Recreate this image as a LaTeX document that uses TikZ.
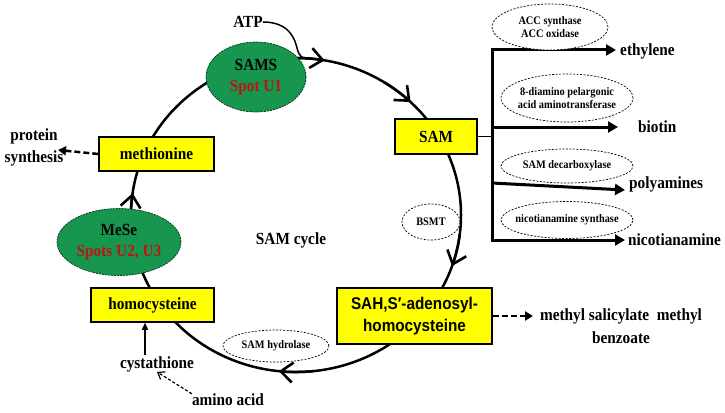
\documentclass[tikz,border=0pt]{standalone}
\usepackage{fontspec}
\setmainfont{Liberation Serif}[FakeStretch=0.9]
\newfontfamily\sahfont{Liberation Sans}[FakeStretch=0.9]
\usetikzlibrary{arrows.meta,shapes.geometric,calc}
\definecolor{boxyellow}{RGB}{255,255,0}
\definecolor{enzgreen}{RGB}{22,150,78}
\definecolor{spotred}{RGB}{190,20,20}
\tikzset{
  big/.style={font=\fontsize{17}{21}\selectfont\bfseries},
  small/.style={font=\fontsize{11.5}{12.5}\selectfont\bfseries},
  ybox/.style={draw=black, line width=1.5pt, fill=boxyellow, inner sep=0pt, big},
  genz/.style={ellipse, draw=black!70!enzgreen, dash pattern=on 2pt off 1pt, line width=0.7pt, fill=enzgreen, inner sep=0pt, big, align=center},
  wenz/.style={ellipse, draw, dash pattern=on 2pt off 1.5pt, line width=0.7pt, inner sep=0pt, fill=white},
  cyc/.style={line width=2.5pt},
  cyctip/.style={line width=2.5pt, -{Straight Barb[length=12pt,width=20pt,line width=2.6pt]}},
  branch/.style={line width=3pt, -{Triangle[length=10pt,width=11pt]}},
  dasharrow/.style={line width=2.5pt, dash pattern=on 6pt off 3pt, -{Triangle[length=8pt,width=9pt]}},
  lbl/.style={big, inner sep=0pt},
}
\begin{document}
\begin{tikzpicture}[x=1pt,y=-1pt]
\useasboundingbox (0,0) rectangle (725,412);
\coordinate (ctr) at (296,215);
% SAM cycle
\draw[cyc] (ctr) ellipse [x radius=165, y radius=157];
\foreach \a/\b in {270/280, 302/314, 7/19, 84/96, 176/188}
  \draw[cyctip] (ctr) ++(\a:165 and 157) arc [start angle=\a, end angle=\b, x radius=165, y radius=157];

% nodes on the cycle
\node[lbl] (atp) at (248,22) {ATP};
\coordinate (atpj) at (307,58.5);
\draw[line width=1.5pt] (atp.east) .. controls (290,22) and (295,40) .. (297,48) .. controls (299,56) and (302,58.5) .. (atpj);
\node[genz, minimum width=100pt, minimum height=70pt] (sams) at (256,77) {SAMS\\\textcolor{spotred}{Spot U1}};
\node[ybox, minimum width=115pt, minimum height=34pt] (met) at (156.5,154) {methionine};
\node[genz, minimum width=124pt, minimum height=67pt] (mese) at (119,242) {MeSe\\\textcolor{spotred}{Spots U2, U3}};
\node[ybox, minimum width=123pt, minimum height=34pt] (hcy) at (152.5,305) {homocysteine};
\node[ybox, minimum width=82pt, minimum height=35pt] (sam) at (436,136.5) {SAM};
\node[ybox, minimum width=155pt, minimum height=56pt, align=center, font=\fontsize{17}{22}\selectfont\sahfont\bfseries] (sah) at (414.5,316) {SAH,S′-adenosyl-\\homocysteine};
\node[lbl] (cycle) at (291,240) {SAM cycle};
\node[wenz, minimum width=58pt, minimum height=36pt, label={[small]center:BSMT}] (bsmt) at (431,222) {};
\node[wenz, minimum width=106pt, minimum height=32pt, label={[small]center:SAM hydrolase}] (hyd) at (276,346) {};
\node[lbl] (cysta) at (157,364) {cystathione};
\node[lbl] (amino) at (228,400) {amino acid};
\node[lbl, align=center, font=\fontsize{17}{22}\selectfont\bfseries] (prot) at (34,147) {protein\\synthesis};

% side arrows
\coordinate (protend) at (58,150);
\draw[dasharrow] (met.west) -- (protend);
\coordinate (sahend) at (533,316);
\draw[dasharrow] (sah.east) -- (sahend);
\node[lbl, align=center, font=\fontsize{17}{23}\selectfont\bfseries] (msal) at (621,326) {methyl salicylate\ \ methyl\\benzoate};
\draw[line width=1.2pt, dash pattern=on 3pt off 2pt, -{Straight Barb[length=6pt,width=9pt]}] (amino.north west) -- (cysta.south);
\coordinate (cystop) at (145,355);
\draw[line width=1.2pt, -{Triangle[length=7pt,width=6pt]}] (cystop) -- (hcy.south -| cystop);

% SAM branches
\coordinate (vtop) at (492,50);
\coordinate (vbot) at (492,240);
\coordinate (samj) at (492,136.5);
\draw[line width=0.8pt] (sam.east) -- (samj);
\coordinate (ethtip) at (616,50);
\coordinate (biotail) at (492,127);
\coordinate (biotip) at (618,127);
\coordinate (polytail) at (492,183);
\coordinate (polytip) at (625,190);
\coordinate (nictip) at (625,240);
\draw[branch] (vbot) -- (vtop) -- (ethtip);
\draw[branch] (vtop) -- (vbot) -- (nictip);
\draw[branch] (biotail) -- (biotip);
\draw[branch] (polytail) -- (polytip);
\node[lbl, anchor=west] (eth) at (620,51) {ethylene};
\node[lbl, anchor=west] (bio) at (638,127) {biotin};
\node[lbl, anchor=west] (poly) at (629,184) {polyamines};
\node[lbl, anchor=west] (nic) at (628,240) {nicotianamine};
\node[wenz, minimum width=116pt, minimum height=46pt, label={[small, align=center]center:{ACC synthase\\ACC oxidase}}] (acc) at (550,27) {};
\node[wenz, minimum width=132pt, minimum height=48pt, label={[small, align=center]center:{8-diamino pelargonic\\acid aminotransferase}}] (dap) at (567,98) {};
\node[wenz, minimum width=132pt, minimum height=34pt, label={[small]center:SAM decarboxylase}] (samdc) at (567,166) {};
\node[wenz, minimum width=132pt, minimum height=37pt, label={[small]center:nicotianamine synthase}] (nas) at (567,220) {};
\end{tikzpicture}
\end{document}
